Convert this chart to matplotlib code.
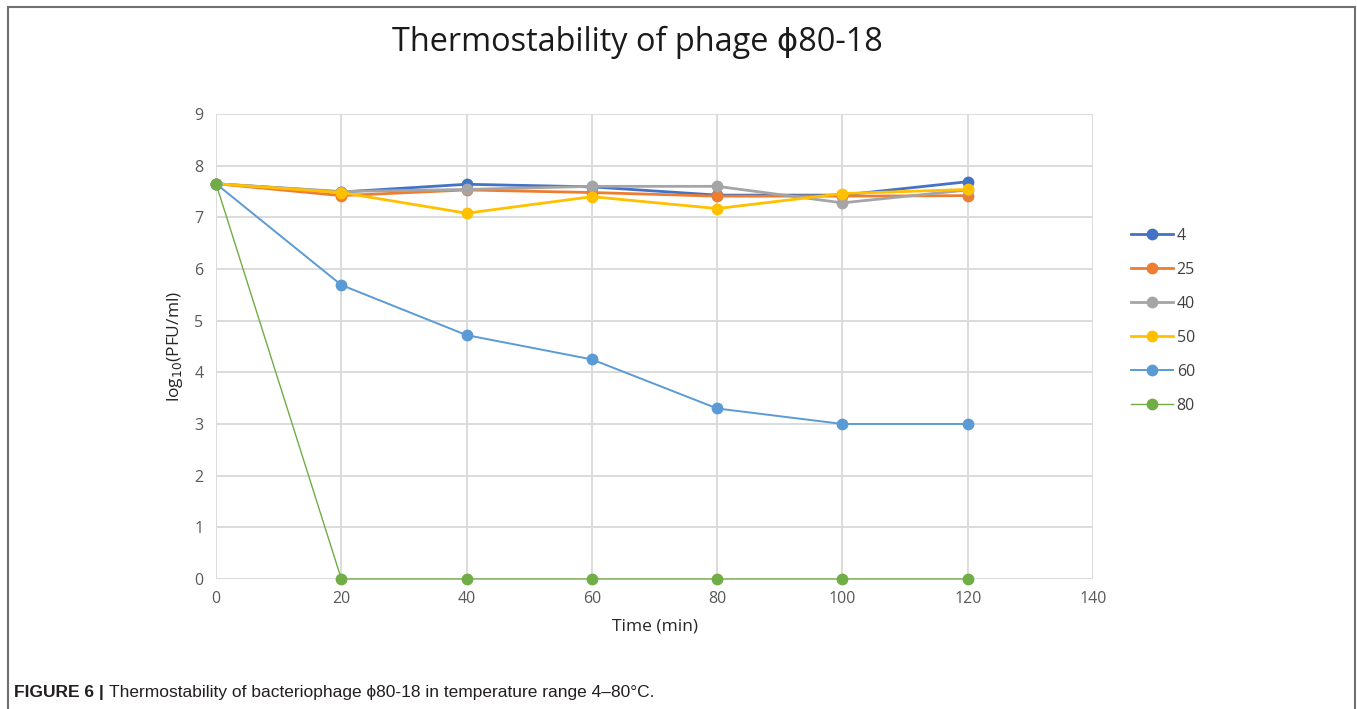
import matplotlib.pyplot as plt
from matplotlib.patches import Rectangle

# data
time = [0, 20, 40, 60, 80, 100, 120]
temps = ["4", "25", "40", "50", "60", "80"]
t4 = [7.65, 7.49, 7.64, 7.59, 7.43, 7.43, 7.69]
t25 = [7.65, 7.42, 7.53, 7.48, 7.41, 7.41, 7.42]
t40 = [7.65, 7.50, 7.54, 7.60, 7.60, 7.28, 7.53]
t50 = [7.65, 7.48, 7.08, 7.40, 7.17, 7.46, 7.54]
t60 = [7.65, 5.69, 4.72, 4.25, 3.30, 3.00, 3.00]
t80 = [7.65, 0, 0, 0, 0, 0, 0]
series = [t4, t25, t40, t50, t60, t80]

colors = ["#4472C4", "#ED7D31", "#A5A5A5", "#FFC000", "#5B9BD5", "#70AD47"]
widths = [2.0, 2.0, 2.0, 2.0, 1.4, 1.0]

plt.rcParams['font.family'] = ['Open Sans', 'DejaVu Sans']

fig = plt.figure(figsize=(13.57, 7.09), dpi=100)
ax = fig.add_axes([0.1592, 0.1834, 0.6463, 0.6558])

for lab, ys, c, lw in zip(temps, series, colors, widths):
    ax.plot(time, ys, color=c, lw=lw, marker='o', markersize=8.5,
            markeredgewidth=0, label=lab, clip_on=False)

ax.set_xlim(0, 140)
ax.set_ylim(0, 9)
ax.set_xticks(range(0, 141, 20))
ax.set_yticks(range(0, 10))
ax.grid(True, color="#D9D9D9", lw=1.3)
ax.set_axisbelow(True)
for s in ax.spines.values():
    s.set_visible(False)
ax.tick_params(length=0, labelsize=11.5, labelcolor="#595959", pad=9)

ax.set_xlabel("Time (min)", fontsize=12.5, color="#262626", labelpad=8)
ax.set_ylabel("log$_{10}$(PFU/ml)", fontsize=12.5, color="#262626", labelpad=7)

leg = ax.legend(loc='center left', bbox_to_anchor=(1.027, 0.555), frameon=False,
                fontsize=11.5, labelspacing=1.13, handlelength=2.6,
                handletextpad=0.25)
for t in leg.get_texts():
    t.set_color("#404040")

fig.text(0.47, 0.94, "Thermostability of phage \u03d580-18", ha='center',
         va='center', fontsize=23.4, color="#1a1a1a")

# outer frame (open at the bottom)
fig.add_artist(Rectangle((8 / 1357, -0.05), 1347 / 1357, 0.04 + 1 - 7 / 709 + 0.01,
                         transform=fig.transFigure, fill=False,
                         edgecolor="#707070", lw=1.5))

cap_font = ['Liberation Sans Narrow', 'Liberation Sans']
fig.text(14 / 1357, 1 - 693 / 709, "FIGURE 6 |", fontsize=12.5, fontweight='bold',
         family=cap_font, va='center', color="#231F20")
fig.text(109 / 1357, 1 - 693 / 709,
         "Thermostability of bacteriophage \u03d580-18 in temperature range 4\u201380\u00b0C.",
         fontsize=12.5, family=cap_font, va='center', color="#231F20")

fig.savefig("out.png", dpi=100)
